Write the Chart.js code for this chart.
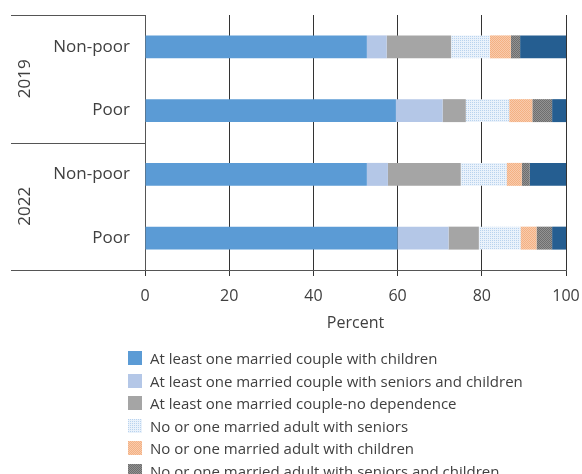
<!DOCTYPE html>
<html>
<head>
<meta charset="utf-8">
<script src="https://cdn.jsdelivr.net/npm/chart.js@4"></script>
<style>
    body { margin: 0; width: 582px; height: 474px; overflow: hidden; background: #fff; font-family: "Open Sans", sans-serif; }
    #wrap { position: absolute; left: 0; top: 0; width: 582px; height: 335px; }
    #legend { position: absolute; left: 128px; top: 347px; color: #404040; font-size: 15px; }
    .item { display: flex; align-items: center; height: 22.5px; white-space: nowrap; }
    .item canvas { width: 14px; height: 14px; margin-right: 8px; }
</style>
</head>
<body>
<div id="wrap"><canvas id="chart"></canvas></div>
<div id="legend"></div>
<script>
// Data
const rowLabels = ['Non-poor', 'Poor', 'Non-poor', 'Poor'];
const years = ['2019', '2022'];
const seriesNames = [
    'At least one married couple with children',
    'At least one married couple with seniors and children',
    'At least one married couple-no dependence',
    'No or one married adult with seniors',
    'No or one married adult with children',
    'No or one married adult with seniors and children',
    'Other'
];
const coupleChildren = [52.7, 59.6, 52.7, 60.0];
const coupleSeniorsChildren = [4.7, 11.1, 5.0, 12.1];
const coupleNoDependence = [15.3, 5.5, 17.3, 7.2];
const adultSeniors = [9.2, 10.3, 10.9, 9.9];
const adultChildren = [5.0, 5.5, 3.6, 3.8];
const adultSeniorsChildren = [2.2, 4.7, 1.9, 3.7];
const other = [10.9, 3.3, 8.6, 3.3];
const xTicks = [0, 20, 40, 60, 80, 100];

const seriesValues = [coupleChildren, coupleSeniorsChildren, coupleNoDependence,
    adultSeniors, adultChildren, adultSeniorsChildren, other];

// fills: solid colour or 2x2 pattern
const fills = [
    '#5b9bd5',
    '#b4c7e7',
    '#a5a5a5',
    ['#b9d3ee', '#eaf2fb', '#eaf2fb', '#eaf2fb'],
    ['#f4b183', '#f8cbad', '#f8cbad', '#f4b183'],
    ['#6e6e6e', '#929292', '#929292', '#6e6e6e'],
    '#255e91'
];

function makeFill(spec) {
    if (typeof spec === 'string') return spec;
    const c = document.createElement('canvas');
    c.width = 2; c.height = 2;
    const g = c.getContext('2d');
    spec.forEach((col, i) => {
        g.fillStyle = col;
        g.fillRect(i % 2, Math.floor(i / 2), 1, 1);
    });
    return g.createPattern(c, 'repeat');
}

const textColor = '#404040';
const font = { family: '"Open Sans", sans-serif', size: 16 };

// draws the year groups on the left
const groupPlugin = {
    id: 'groups',
    afterDraw(chart) {
        const ctx = chart.ctx;
        const y = chart.scales.y;
        const area = chart.chartArea;
        const mid = (y.getPixelForValue(1) + y.getPixelForValue(2)) / 2;
        const bounds = [area.top, mid, area.bottom];
        ctx.save();
        ctx.strokeStyle = '#555';
        ctx.lineWidth = 1;
        bounds.forEach(b => {
            const py = Math.round(b) + 0.5;
            ctx.beginPath();
            ctx.moveTo(11, py);
            ctx.lineTo(area.left, py);
            ctx.stroke();
        });
        ctx.fillStyle = textColor;
        ctx.font = '17px "Open Sans", sans-serif';
        ctx.textAlign = 'center';
        ctx.textBaseline = 'middle';
        years.forEach((yr, i) => {
            const cy = (bounds[i] + bounds[i + 1]) / 2;
            ctx.save();
            ctx.translate(25, cy);
            ctx.rotate(-Math.PI / 2);
            ctx.fillText(yr, 0, 0);
            ctx.restore();
        });
        ctx.restore();
    }
};

const ctx = document.getElementById('chart').getContext('2d');
const chart = new Chart(ctx, {
    type: 'bar',
    data: {
        labels: rowLabels,
        datasets: seriesNames.map((name, i) => ({
            label: name,
            data: seriesValues[i],
            backgroundColor: makeFill(fills[i]),
            borderWidth: 0,
            barPercentage: 0.36,
            categoryPercentage: 1
        }))
    },
    options: {
        indexAxis: 'y',
        responsive: true,
        maintainAspectRatio: false,
        animation: false,
        layout: { padding: { top: 15, right: 16, left: 0, bottom: 0 } },
        plugins: {
            legend: { display: false },
            tooltip: { enabled: false }
        },
        scales: {
            x: {
                stacked: true,
                min: 0,
                max: 100,
                afterBuildTicks: (s) => { s.ticks = xTicks.map(v => ({ value: v })); },
                afterFit: (s) => { s.height = 65; s.paddingRight = 0; s.paddingLeft = 0; },
                grid: { color: '#333', lineWidth: 1, tickLength: 6, drawTicks: true },
                border: { display: true, color: '#555' },
                ticks: { color: textColor, font: font, padding: 11, maxRotation: 0 },
                title: { display: true, text: 'Percent', color: textColor, font: font, padding: { top: 0, bottom: 2 } }
            },
            y: {
                stacked: true,
                afterFit: (s) => { s.width = 145; s.paddingTop = 0; s.paddingBottom = 0; },
                grid: { display: false, drawTicks: false },
                border: { display: true, color: '#555' },
                ticks: { color: textColor, font: { family: font.family, size: 17 }, padding: 15 }
            }
        }
    },
    plugins: [groupPlugin]
});

// HTML legend built from the datasets
const legend = document.getElementById('legend');
chart.data.datasets.forEach((ds, i) => {
    const row = document.createElement('div');
    row.className = 'item';
    const sw = document.createElement('canvas');
    sw.width = 14; sw.height = 14;
    const g = sw.getContext('2d');
    g.fillStyle = makeFill(fills[i]);
    g.fillRect(0, 0, 14, 14);
    const span = document.createElement('span');
    span.textContent = ds.label;
    row.appendChild(sw);
    row.appendChild(span);
    legend.appendChild(row);
});
</script>
</body>
</html>
